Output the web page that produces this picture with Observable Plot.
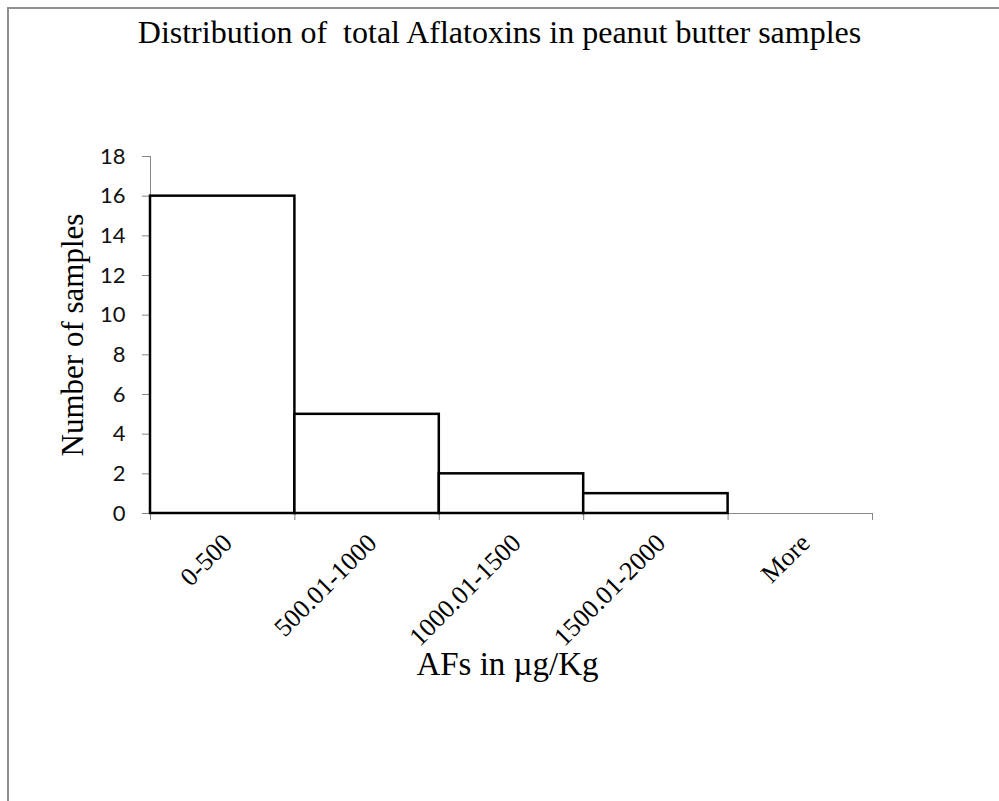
<!DOCTYPE html>
<html>
<head>
<meta charset="utf-8">
<script src="https://cdn.jsdelivr.net/npm/d3@7"></script>
<script src="https://cdn.jsdelivr.net/npm/@observablehq/plot@0.6"></script>
<style>
  html, body { margin: 0; padding: 0; background: #fff; }
  #wrap { position: relative; width: 999px; height: 801px; overflow: hidden; background: #fff; }
  #frame { position: absolute; left: 7px; top: 7px; right: -10px; bottom: -10px;
           border-top: 2px solid #8f8f8f; border-left: 2px solid #8f8f8f; }
  #title { position: absolute; left: 0; top: 14px; width: 999px; text-align: center;
           font-family: "Liberation Serif", "Times New Roman", serif; font-size: 32px;
           line-height: normal; white-space: pre; color: #000; }
  #chart { position: absolute; left: 0; top: 0; }
</style>
</head>
<body>
<div id="wrap">
  <div id="frame"></div>
  <div id="chart"></div>
  <div id="title">Distribution of  total Aflatoxins in peanut butter samples</div>
</div>
<script>
const categories = ["0-500", "500.01-1000", "1000.01-1500", "1500.01-2000", "More"];
const counts = [16, 5, 2, 1, 0];
const yTicks = [0, 2, 4, 6, 8, 10, 12, 14, 16, 18];
const xLabel = "AFs in \u00b5g/Kg";
const yLabel = "Number of samples";

const data = categories.map((c, i) => ({cat: c, i, count: counts[i]}));
const boundaries = d3.range(categories.length + 1);

const serif = "Liberation Serif, Times New Roman, serif";
const axisGray = "#868686";

const chart = Plot.plot({
  width: 999,
  height: 801,
  marginTop: 156,
  marginBottom: 288,
  marginLeft: 150,
  marginRight: 127,
  style: {background: "transparent", overflow: "visible"},
  x: {domain: [0, categories.length], axis: null},
  y: {domain: [0, 18], axis: null},
  marks: [
    Plot.ruleX([0], {stroke: axisGray, strokeWidth: 1}),
    Plot.ruleY([0], {stroke: axisGray, strokeWidth: 1}),
    Plot.axisY({ticks: yTicks, tickSize: 8, tickPadding: 17, stroke: axisGray, fill: "#111",
                fontSize: 22, fontFamily: "Lato, Open Sans, sans-serif", label: null}),
    Plot.axisX({ticks: boundaries, tickSize: 7, stroke: axisGray, tickFormat: () => "", label: null}),
    Plot.rectY(data.filter(d => d.count > 0), {
      x1: "i", x2: d => d.i + 1, y: "count",
      fill: "white", stroke: "black", strokeWidth: 2.5
    }),
    Plot.text(data, {
      x: d => d.i + 0.5, y: () => 0, text: "cat", rotate: -45, textAnchor: "end", lineAnchor: "bottom",
      dx: 11, dy: 31, fontSize: 26, fontFamily: serif, fill: "#000"
    }),
    Plot.text([xLabel], {
      frameAnchor: "bottom", text: d => d, dy: 151, dx: -4, textAnchor: "middle", lineAnchor: "middle",
      fontSize: 33, fontFamily: serif, fill: "#000"
    }),
    Plot.text([yLabel], {
      frameAnchor: "left", text: d => d, rotate: -90, dx: -77, textAnchor: "middle", lineAnchor: "middle",
      fontSize: 31, fontFamily: serif, fill: "#000"
    })
  ]
});
document.getElementById("chart").appendChild(chart);
</script>
</body>
</html>
